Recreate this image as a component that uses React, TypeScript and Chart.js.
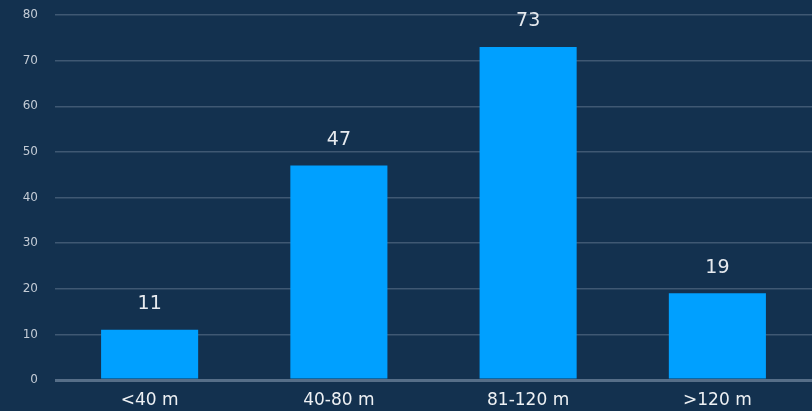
import React, { useEffect, useRef } from "react";
import { Chart, registerables } from "chart.js";

Chart.register(...registerables);

const categories = ["<40 m", "40-80 m", "81-120 m", ">120 m"];
const counts = [11, 47, 73, 19];
const yTicks = [0, 10, 20, 30, 40, 50, 60, 70, 80];

const BG = "#13314f";
const BAR = "#00a0ff";
const FONT = "'DejaVu Sans', sans-serif";

// Writes each bar's value centred above it.
const valueLabels = {
  id: "valueLabels",
  afterDatasetsDraw(chart: any) {
    const { ctx } = chart;
    const meta = chart.getDatasetMeta(0);
    ctx.save();
    ctx.font = `19px ${FONT}`;
    ctx.fillStyle = "#e6eaef";
    ctx.textAlign = "center";
    ctx.textBaseline = "bottom";
    meta.data.forEach((bar: any, i: number) => {
      ctx.fillText(String(counts[i]), bar.x, bar.y - 16);
    });
    ctx.restore();
  },
};

export default function App() {
  const ref = useRef<HTMLCanvasElement>(null);

  useEffect(() => {
    document.body.style.margin = "0";
    document.body.style.background = BG;
    const chart = new Chart(ref.current!, {
      type: "bar",
      data: {
        labels: categories,
        datasets: [
          {
            data: counts,
            backgroundColor: BAR,
            borderWidth: 0,
            categoryPercentage: 1,
            barPercentage: 0.513,
          },
        ],
      },
      options: {
        animation: false,
        responsive: false,
        maintainAspectRatio: false,
        layout: { padding: { top: 15, right: 0, left: 0, bottom: 0 } },
        plugins: { legend: { display: false }, tooltip: { enabled: false } },
        scales: {
          x: {
            grid: { display: false, drawTicks: false },
            border: { display: false },
            ticks: {
              color: "#eef1f4",
              font: { family: FONT, size: 17 },
              padding: 10,
            },
            afterFit(scale: any) {
              scale.height = 31;
              scale.paddingLeft = 0;
              scale.paddingRight = 0;
            },
          },
          y: {
            min: 0,
            max: 80,
            afterBuildTicks(scale: any) {
              scale.ticks = yTicks.map((v) => ({ value: v }));
            },
            grid: {
              color: (c: any) => (c.tick && c.tick.value === 0 ? "#566e88" : "#3f5873"),
              lineWidth: (c: any) => (c.tick && c.tick.value === 0 ? 3 : 1.5),
              drawTicks: false,
            },
            border: { display: false },
            ticks: {
              color: "#c3cbd5",
              font: { family: FONT, size: 12 },
              padding: 17,
            },
            afterFit(scale: any) {
              scale.width = 55;
              scale.paddingTop = 0;
              scale.paddingBottom = 0;
            },
          },
        },
      },
      plugins: [valueLabels],
    });
    return () => chart.destroy();
  }, []);

  return (
    <div style={{ width: 812, height: 411, background: BG }}>
      <canvas ref={ref} width={812} height={411} style={{ display: "block" }} />
    </div>
  );
}
